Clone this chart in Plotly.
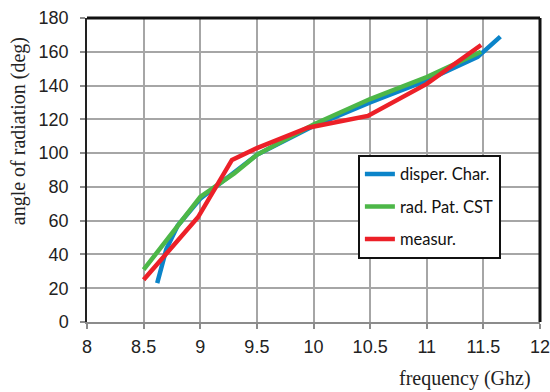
import plotly.graph_objects as go

disp_x = [8.62, 8.66, 8.70, 8.80, 9.0, 9.5, 10.0, 10.5, 11.0, 11.45, 11.65]
disp_y = [23, 33, 43, 57, 73, 99, 116, 130, 143, 157, 169]

cst_x = [8.5, 9.0, 9.3, 9.5, 10.0, 10.5, 11.0, 11.48]
cst_y = [31, 74, 88, 99, 117, 132, 145, 160]

meas_x = [8.5, 8.98, 9.28, 9.5, 9.95, 10.48, 11.0, 11.48]
meas_y = [25, 62, 96, 103, 115, 122, 141, 164]

x_ticks = [8, 8.5, 9, 9.5, 10, 10.5, 11, 11.5, 12]
x_tick_text = ["8", "8.5", "9", "9.5", "10", "10.5", "11", "11.5", "12"]
y_ticks = list(range(0, 181, 20))

fig = go.Figure()
series = [
    ("disper. Char.", disp_x, disp_y, "#0b84c9"),
    ("rad. Pat. CST", cst_x, cst_y, "#4db748"),
    ("measur.", meas_x, meas_y, "#ec2028"),
]
for name, xs, ys, col in series:
    fig.add_trace(go.Scatter(x=xs, y=ys, mode="lines", name=name, legendgroup=name,
                             line=dict(color=col, width=4.5)))

fig.update_layout(
    width=550, height=392,
    margin=dict(l=87, r=10, t=18, b=70, autoexpand=False),
    paper_bgcolor="white", plot_bgcolor="white",
    font=dict(family="Liberation Sans, Arial", size=18, color="#222"),
    showlegend=True,
    legend=dict(x=0.598, y=0.55, xanchor="left", yanchor="top",
                bgcolor="white", bordercolor="#111", borderwidth=2,
                font=dict(family="Lato, sans-serif", size=16.5, color="#111"),
                tracegroupgap=8, traceorder="grouped", itemwidth=30),
    xaxis=dict(range=[8, 12], tickvals=x_ticks, ticktext=x_tick_text,
               showgrid=True, gridcolor="#a6a6a6", gridwidth=1.5,
               showline=True, linecolor="#8c8c8c", linewidth=2,
               ticks="outside", ticklen=5, tickcolor="#8c8c8c", tickwidth=1.5,
               zeroline=False, tickfont=dict(size=18), ticklabelstandoff=2,
               ticklabeloverflow="allow", automargin=False),
    yaxis=dict(range=[0, 180], tickvals=y_ticks,
               showgrid=True, gridcolor="#a6a6a6", gridwidth=1.5,
               showline=True, linecolor="#222", linewidth=1.5,
               ticks="outside", ticklen=5, tickcolor="#8c8c8c", tickwidth=1.5,
               zeroline=False, tickfont=dict(size=18), ticklabelstandoff=8,
               ticklabeloverflow="allow", automargin=False),
)

# frame top and right
fig.add_shape(type="line", xref="paper", yref="paper", x0=0, x1=1, y0=1, y1=1,
              line=dict(color="#111", width=3))
fig.add_shape(type="line", xref="paper", yref="paper", x0=1, x1=1, y0=0, y1=1,
              line=dict(color="#111", width=3))

fig.add_annotation(text="angle of radiation (deg)", xref="paper", yref="paper",
                   x=-0.152, y=0.628, xanchor="center", yanchor="middle", textangle=-90,
                   showarrow=False,
                   font=dict(family="Liberation Serif, Times New Roman", size=20, color="#222"))
fig.add_annotation(text="frequency (Ghz)", xref="paper", yref="paper",
                   x=0.985, y=-0.143, xanchor="right", yanchor="top", showarrow=False,
                   font=dict(family="Liberation Serif, Times New Roman", size=20, color="#222"))

fig.write_html("out.html")
